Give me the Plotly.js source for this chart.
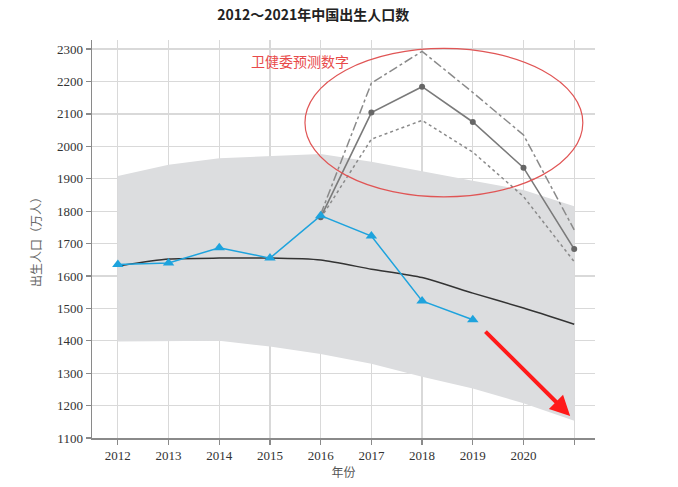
<!DOCTYPE html>
<html>
<head>
<meta charset="utf-8">
<script src="https://cdn.plot.ly/plotly-3.0.1.min.js"></script>
<style>html,body{margin:0;padding:0;background:#fff;}#chart{width:678px;height:487px;}</style>
</head>
<body>
<div id="chart"></div>
<script>
// Years
const years = [2012, 2013, 2014, 2015, 2016, 2017, 2018, 2019, 2020, 2021];
const xTickText = ['2012','2013','2014','2015','2016','2017','2018','2019','2020',''];
// Actual births (万人)
const actualYears = [2012, 2013, 2014, 2015, 2016, 2017, 2018, 2019];
const actualBirths = [1635, 1640, 1687, 1655, 1786, 1723, 1523, 1465];
// Trend line
const trendValues = [1631, 1652, 1655, 1655, 1649, 1621, 1595, 1547, 1501, 1451];
// Grey band bounds
const bandUpper = [1908, 1943, 1963, 1970, 1976, 1952, 1924, 1894, 1865, 1815];
const bandLower = [1398, 1400, 1400, 1382, 1359, 1329, 1289, 1253, 1207, 1153];
// 卫健委 forecasts
const forecastYears = [2016, 2017, 2018, 2019, 2020, 2021];
const forecastMid = [1781, 2104, 2184, 2075, 1934, 1683];
const forecastHigh = [1790, 2195, 2293, 2166, 2035, 1742];
const forecastLow = [1778, 2022, 2080, 1982, 1845, 1644];
// Annotation text
const titleText = '2012～2021年中国出生人口数';
const forecastLabel = '卫健委预测数字';
const xTitle = '年份';
const yTitle = '出生人口（万人）';

const serif = '"Liberation Serif", "DejaVu Serif", serif';
const cjk = '"Noto Sans CJK SC", "Noto Sans", sans-serif';

const traces = [
  {x: years, y: bandLower, mode: 'lines', line: {width: 0, color: 'rgba(0,0,0,0)'}, hoverinfo: 'skip', showlegend: false},
  {x: years, y: bandUpper, mode: 'lines', line: {width: 0, color: 'rgba(0,0,0,0)'}, fill: 'tonexty', fillcolor: 'rgb(220,221,223)', hoverinfo: 'skip', showlegend: false},
  {x: forecastYears, y: forecastHigh, mode: 'lines', line: {color: '#8a8a8a', width: 1.5, dash: 'dashdot'}, showlegend: false},
  {x: forecastYears, y: forecastLow, mode: 'lines', line: {color: '#8a8a8a', width: 1.5, dash: 'dot'}, showlegend: false},
  {x: forecastYears, y: forecastMid, mode: 'lines+markers', line: {color: '#7a7a7a', width: 1.6}, marker: {color: '#666', size: 6}, showlegend: false},
  {x: years, y: trendValues, mode: 'lines', line: {color: '#333', width: 1.5, shape: 'spline', smoothing: 0.6}, showlegend: false},
  {x: actualYears, y: actualBirths, mode: 'lines+markers', line: {color: '#1ea3dd', width: 1.5}, marker: {symbol: 'triangle-up', size: 10, color: '#1ea3dd'}, showlegend: false}
];

const layout = {
  width: 678, height: 487,
  margin: {l: 92, r: 83, t: 40, b: 49},
  paper_bgcolor: '#fff', plot_bgcolor: '#fff',
  title: {text: titleText, x: 0.44, xref: 'paper', xanchor: 'center', y: 0.968, yanchor: 'middle', font: {family: cjk, size: 14, color: '#222', weight: 'bold'}},
  xaxis: {
    range: [2011.49, 2021.41], tickvals: years, ticktext: xTickText,
    showgrid: true, gridcolor: '#d9d9d9', gridwidth: 1.2,
    showline: true, linecolor: '#8a8a8a', linewidth: 1.5,
    ticks: 'outside', ticklen: 5, tickcolor: '#8a8a8a', tickwidth: 1.2,
    tickfont: {family: serif, size: 13, color: '#333'},
    title: {text: xTitle, font: {family: cjk, size: 12, color: '#555'}, standoff: 3},
    zeroline: false, fixedrange: true
  },
  yaxis: {
    range: [1100, 2328], tickvals: [1100,1200,1300,1400,1500,1600,1700,1800,1900,2000,2100,2200,2300],
    showgrid: true, gridcolor: '#d9d9d9', gridwidth: 1.2,
    showline: true, linecolor: '#8a8a8a', linewidth: 1.5,
    ticks: 'outside', ticklen: 5, tickcolor: '#8a8a8a', tickwidth: 1.2,
    tickfont: {family: serif, size: 13, color: '#333'},
    title: {text: yTitle, font: {family: cjk, size: 12, color: '#666'}, standoff: 12},
    zeroline: false, fixedrange: true
  },
  shapes: [
    {type: 'circle', xref: 'x', yref: 'y', x0: 2015.69, x1: 2021.17, y0: 1844, y1: 2302, line: {color: '#e05555', width: 1.2}}
  ],
  annotations: [
    {x: 2014.585, y: 2262, xref: 'x', yref: 'y', text: forecastLabel, showarrow: false, xanchor: 'left', font: {family: cjk, size: 14, color: '#e84a4a'}},
    {x: 2020.92, y: 1168, ax: 2019.22, ay: 1433, xref: 'x', yref: 'y', axref: 'x', ayref: 'y', text: '', showarrow: true, arrowhead: 2, arrowsize: 1, arrowwidth: 4, arrowcolor: '#ff1a1a'}
  ]
};

Plotly.newPlot('chart', traces, layout, {displayModeBar: false, staticPlot: true});
</script>
</body>
</html>
